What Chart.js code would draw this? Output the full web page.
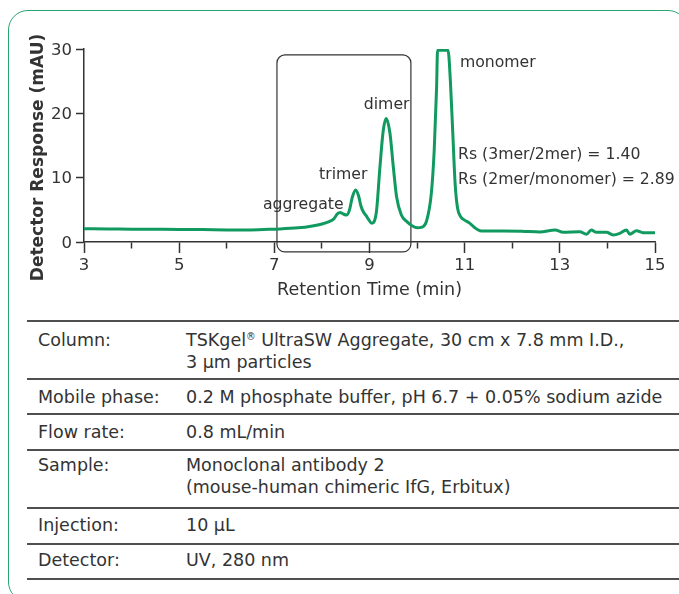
<!DOCTYPE html>
<html>
<head>
<meta charset="utf-8">
<script src="https://cdn.jsdelivr.net/npm/chart.js@4.4.1/dist/chart.umd.min.js"></script>
<style>
  html, body { margin: 0; padding: 0; background: #fff; }
  body { width: 679px; height: 594px; overflow: hidden; position: relative;
         font-family: "DejaVu Sans", Verdana, sans-serif; color: #333; }
  #frame { position: absolute; left: 7.5px; top: 9.5px; width: 680px; height: 592px;
           box-sizing: border-box; border: 1.5px solid #2aa46f; border-radius: 20px; }
  #chart { position: absolute; left: 0; top: 0; }
  .rule { position: absolute; left: 27px; width: 660px; height: 2px; background: #4f4f4f; }
  .cell { position: absolute; font-size: 17.5px; line-height: 22px; white-space: nowrap; }
  .k { left: 38px; }
  .v { left: 186px; }
  sup { font-size: 0.55em; vertical-align: 0.6em; line-height: 0; }
</style>
</head>
<body>
<div id="frame"></div>
<canvas id="chart" width="679" height="310"></canvas>

<div class="rule" style="top:320px"></div>
<div class="rule" style="top:378px"></div>
<div class="rule" style="top:413px"></div>
<div class="rule" style="top:448.5px"></div>
<div class="rule" style="top:507px"></div>
<div class="rule" style="top:543px"></div>
<div class="rule" style="top:578px"></div>

<div class="cell k" style="top:329px">Column:</div>
<div class="cell v" style="top:329px">TSKgel<sup>®</sup> UltraSW Aggregate, 30 cm x 7.8 mm I.D.,<br>3 µm particles</div>
<div class="cell k" style="top:386px">Mobile phase:</div>
<div class="cell v" style="top:386px">0.2 M phosphate buffer, pH 6.7 + 0.05% sodium azide</div>
<div class="cell k" style="top:421px">Flow rate:</div>
<div class="cell v" style="top:421px">0.8 mL/min</div>
<div class="cell k" style="top:454px">Sample:</div>
<div class="cell v" style="top:454px">Monoclonal antibody 2<br>(mouse-human chimeric IfG, Erbitux)</div>
<div class="cell k" style="top:514px">Injection:</div>
<div class="cell v" style="top:514px">10 µL</div>
<div class="cell k" style="top:549px">Detector:</div>
<div class="cell v" style="top:549px">UV, 280 nm</div>

<script>
// Chromatogram trace: retention time (min) and detector response (mAU)
const retentionTime = [
  3.0, 3.5, 4.0, 4.5, 5.0, 5.5, 6.0, 6.5, 7.0, 7.5, 7.8, 8.0, 8.15, 8.25, 8.33, 8.38,
  8.45, 8.52, 8.58, 8.64, 8.71, 8.77, 8.82, 8.87, 8.93, 8.98, 9.05, 9.1, 9.15, 9.22,
  9.29, 9.35, 9.43, 9.5, 9.57, 9.67, 9.78, 9.9, 10.0, 10.1, 10.2, 10.3, 10.36, 10.41,
  10.43, 10.65, 10.7, 10.75, 10.8, 10.85, 10.92, 11.0, 11.11, 11.2, 11.32, 11.4, 11.8,
  12.2, 12.58, 12.9, 13.07, 13.42, 13.56, 13.66, 13.77, 13.98, 14.12, 14.26, 14.4,
  14.47, 14.61, 14.75, 15.0
];
const response = [
  2.05, 2.03, 2.0, 1.98, 1.96, 1.93, 1.88, 1.87, 2.0, 2.2, 2.5, 2.8, 3.15, 3.6, 4.4, 4.6,
  4.35, 4.2, 5.0, 7.0, 8.1, 7.2, 5.6, 4.7, 4.1, 3.5, 2.9, 3.2, 5.0, 11.7,
  17.4, 19.2, 16.9, 11.7, 7.0, 4.2, 3.2, 2.5, 2.2, 2.3, 3.3, 7.6, 14.3, 24,
  29.8, 29.8, 25, 17, 9, 5.3, 3.9, 3.4, 2.9, 2.3, 1.76, 1.72, 1.72,
  1.68, 1.55, 1.87, 1.5, 1.6, 1.2, 1.87, 1.5, 1.5, 1.1, 1.35, 1.87,
  1.2, 1.76, 1.45, 1.45
];

// Axis ranges and tick steps
const timeRange = [3, 15];
const responseRange = [0, 30];
const timeStep = 1;
const responseStep = 10;

// Peak labels and resolution notes, anchored in data units (left edge, baseline)
const peakLabels = ['monomer', 'dimer', 'trimer', 'aggregate'];
const peakLabelTime = [10.90, 8.88, 7.94, 6.76];
const peakLabelLevel = [27.2, 20.7, 9.8, 5.13];
const noteLines = ['Rs (3mer/2mer) = 1.40', 'Rs (2mer/monomer) = 2.89'];
const noteTime = [10.86, 10.86];
const noteLevel = [12.9, 9.0];

// Highlight window around the aggregate / trimer / dimer region
const windowTime = [7.055, 9.87];
const windowLevel = [-1.55, 29.08];

const INK = '#333333';
const TRACE = '#109a5f';
const FONT = '"DejaVu Sans", Verdana, sans-serif';

const points = retentionTime.map((t, i) => ({ x: t, y: response[i] }));

function roundRect(ctx, x, y, w, h, r) {
  ctx.beginPath();
  ctx.moveTo(x + r, y);
  ctx.lineTo(x + w - r, y);
  ctx.arcTo(x + w, y, x + w, y + r, r);
  ctx.lineTo(x + w, y + h - r);
  ctx.arcTo(x + w, y + h, x + w - r, y + h, r);
  ctx.lineTo(x + r, y + h);
  ctx.arcTo(x, y + h, x, y + h - r, r);
  ctx.lineTo(x, y + r);
  ctx.arcTo(x, y, x + r, y, r);
  ctx.closePath();
}

const overlay = {
  id: 'overlay',
  beforeDatasetsDraw(chart) {
    const { ctx, scales: { x, y } } = chart;
    const x0 = x.getPixelForValue(windowTime[0]);
    const x1 = x.getPixelForValue(windowTime[1]);
    const y0 = y.getPixelForValue(windowLevel[1]);
    const y1 = y.getPixelForValue(windowLevel[0]);
    ctx.save();
    ctx.strokeStyle = INK;
    ctx.lineWidth = 1.2;
    roundRect(ctx, x0, y0, x1 - x0, y1 - y0, 8);
    ctx.stroke();
    ctx.restore();
  },
  afterDraw(chart) {
    const { ctx, scales: { x, y } } = chart;
    ctx.save();
    ctx.fillStyle = INK;
    ctx.textAlign = 'left';
    ctx.textBaseline = 'alphabetic';
    ctx.font = '15.7px ' + FONT;
    peakLabels.forEach((txt, i) => {
      ctx.fillText(txt, x.getPixelForValue(peakLabelTime[i]), y.getPixelForValue(peakLabelLevel[i]));
    });
    noteLines.forEach((txt, i) => {
      ctx.fillText(txt, x.getPixelForValue(noteTime[i]), y.getPixelForValue(noteLevel[i]));
    });
    // vertical axis title
    ctx.font = 'bold 17px ' + FONT;
    ctx.textAlign = 'center';
    ctx.translate(43, 157.5);
    ctx.rotate(-Math.PI / 2);
    ctx.fillText('Detector Response (mAU)', 0, 0);
    ctx.restore();
  }
};

Chart.defaults.font.family = FONT;
Chart.defaults.color = INK;

new Chart(document.getElementById('chart'), {
  type: 'line',
  data: {
    datasets: [{
      data: points,
      borderColor: TRACE,
      borderWidth: 3,
      pointRadius: 0,
      fill: false,
      cubicInterpolationMode: 'monotone'
    }]
  },
  options: {
    responsive: false,
    animation: false,
    devicePixelRatio: 1,
    layout: { padding: { left: 0, top: 49, right: 24, bottom: 8 } },
    plugins: { legend: { display: false }, tooltip: { enabled: false } },
    scales: {
      x: {
        type: 'linear',
        min: timeRange[0],
        max: timeRange[1],
        afterFit: (s) => { s.height = 60; },
        border: { display: true, color: INK, width: 1.5 },
        grid: {
          drawOnChartArea: false,
          tickLength: 11,
          tickColor: INK,
          tickWidth: 1.5,
          tickBorderDash: (c) => (c.tick && c.tick.value % 2 === 0 ? [6, 100] : [])
        },
        ticks: {
          stepSize: timeStep,
          autoSkip: false,
          maxRotation: 0,
          padding: 3,
          font: { size: 16.5 },
          color: INK,
          callback: (v) => (v % 2 === 1 ? String(v) : '')
        },
        title: {
          display: true,
          text: 'Retention Time (min)',
          font: { size: 17.5 },
          color: INK,
          padding: { top: 0, bottom: 0.7 }
        }
      },
      y: {
        min: responseRange[0],
        max: responseRange[1],
        afterFit: (s) => { s.width = 84; },
        border: { display: true, color: INK, width: 1.5 },
        grid: { drawOnChartArea: false, tickLength: 8, tickColor: INK, tickWidth: 1.5 },
        ticks: { stepSize: responseStep, padding: 4, labelOffset: 1.5, font: { size: 16.5 }, color: INK }
      }
    }
  },
  plugins: [overlay]
});
</script>
</body>
</html>
